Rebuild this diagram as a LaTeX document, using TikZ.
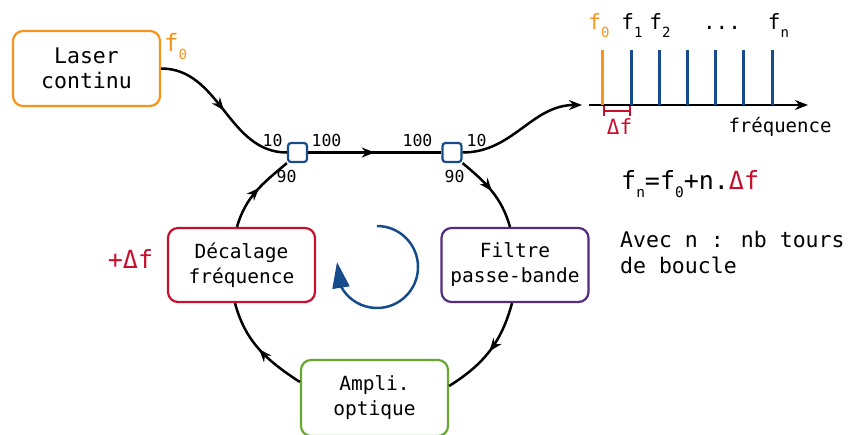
\documentclass[tikz,border=0pt]{standalone}
\usepackage{fontspec}
\setmainfont{DejaVu Sans Mono}
\usetikzlibrary{arrows.meta,decorations.markings}
\definecolor{corange}{RGB}{247,148,29}
\definecolor{cred}{RGB}{200,16,46}
\definecolor{cpurple}{RGB}{84,44,128}
\definecolor{cgreen}{RGB}{104,168,50}
\definecolor{cblue}{RGB}{22,76,140}
\newcommand\sbA[1]{\raisebox{-8pt}{\fontsize{14}{14}\selectfont #1}}
\newcommand\sbB[1]{\raisebox{-8pt}{\fontsize{14.5}{14.5}\selectfont #1}}
\tikzset{
  box/.style={draw, rounded corners=10pt, line width=2.2pt, fill=white,
    minimum width=147pt, minimum height=74pt, align=center,
    font=\fontsize{19.5}{25}\selectfont, inner sep=0pt},
  coupler/.style={draw=cblue, rounded corners=3pt, line width=2.2pt, fill=white,
    minimum size=19pt, inner sep=0pt},
  conn/.style={line width=2.5pt},
  midarrow/.style={postaction={decorate}, decoration={markings,
    mark=at position #1 with {\arrow{Stealth[length=13pt,width=10pt]}}}},
  lbl/.style={font=\fontsize{16.5}{16.5}\selectfont, inner sep=0pt, anchor=base},
  flbl/.style={font=\fontsize{21}{21}\selectfont, inner sep=0pt, anchor=base},
  spline/.style={line width=3pt, cblue}
}
\begin{document}
\begin{tikzpicture}[x=1pt,y=-1pt]
\useasboundingbox (0,0) rectangle (848,434);
% boxes
\node[box, draw=corange, minimum height=75pt, font=\fontsize{21.5}{25}\selectfont] (laser) at (86.5,68.5) {Laser\\continu};
\node[box, draw=cred] (decal) at (241.5,265) {Décalage\\fréquence};
\node[box, draw=cpurple] (filtre) at (515,265) {Filtre\\passe-bande};
\node[box, draw=cgreen, minimum height=76pt] (ampli) at (374.5,398) {Ampli.\\optique};
\node[coupler] (cL) at (297.5,152.5) {};
\node[coupler] (cR) at (452,152.5) {};
% connectors
\draw[conn, midarrow=0.5] (laser.east) to[out=0,in=180] (cL.west);
\draw[conn, midarrow=0.5] (cL.east) -- (cR.west);
\draw[conn, midarrow=0.55] ([xshift=-4.5pt]decal.north) to[out=74,in=220] (cL.south west);
\draw[conn, midarrow=0.5] (cR.south east) to[out=-40,in=106] ([xshift=-5pt]filtre.north);
\draw[conn, midarrow=0.5] ([xshift=-3pt]filtre.south) to[out=-105,in=32] ([yshift=12pt]ampli.east);
\draw[conn, midarrow=0.5] ([yshift=16pt]ampli.west) to[out=147,in=285] ([xshift=-6.5pt]decal.south);
\coordinate (sp) at (582,105);
\draw[conn, -{Stealth[length=13pt,width=10pt]}] (cR.east) to[out=0,in=180] (sp);
% coupler labels
\node[lbl] (l1) at (272.5,146.5) {10};
\node[lbl] (l2) at (326.5,146.5) {100};
\node[lbl] (l3) at (286.5,182.5) {90};
\node[lbl] (l4) at (417.5,146.5) {100};
\node[lbl] (l5) at (476.5,146.5) {10};
\node[lbl] (l6) at (454.5,182.5) {90};
\node[font=\fontsize{24}{24}\selectfont, text=corange, inner sep=0pt, anchor=base west] (f0l) at (164,51) {f\sbA{0}};
% spectrum
\coordinate (ax0) at (589,105);
\coordinate (ax1) at (808,105);
\draw[line width=2.2pt, -{Stealth[length=13pt,width=10pt]}] (ax0) -- (ax1);
\draw[line width=3pt, corange] (602,105) -- (602,50);
\foreach \x in {631,659,687,715,743,772} \draw[spline] (\x,105) -- (\x,50);
\node[flbl, text=corange] (s0) at (599,29) {f\sbA{0}};
\node[flbl] (s1) at (632,29) {f\sbA{1}};
\node[flbl] (s2) at (660,29) {f\sbA{2}};
\node[flbl] (sd) at (722,29) {...};
\node[flbl] (sn) at (778.5,29) {f\sbA{n}};
\draw[cred, line width=2pt] (604,106) -- (604,116) (604,111) -- (630,111) (630,106) -- (630,116);
\node[flbl, text=cred] (df) at (619.5,134) {Δf};
\node[font=\fontsize{19}{19}\selectfont, inner sep=0pt, anchor=base] (freq) at (780,132) {fréquence};
% formula
\node[font=\fontsize{25}{25}\selectfont, inner sep=0pt, anchor=base west] (form) at (621,189) {f\sbB{n}=f\sbB{0}+n.\textcolor{cred}{Δf}};
\node[font=\fontsize{21.5}{25.5}\selectfont, inner sep=0pt, anchor=north west, align=left] (avec) at (620,231) {Avec n : nb tours\\de boucle};
\node[font=\fontsize{25}{25}\selectfont, text=cred, inner sep=0pt, anchor=base] (pdf) at (130.5,268) {+Δf};
% loop arrow
\draw[cblue, line width=2.5pt, -{Triangle[length=26pt,width=17pt]}] (377,226) arc[start angle=90, end angle=-152, radius=41pt] -- (337,262);
\end{tikzpicture}
\end{document}
